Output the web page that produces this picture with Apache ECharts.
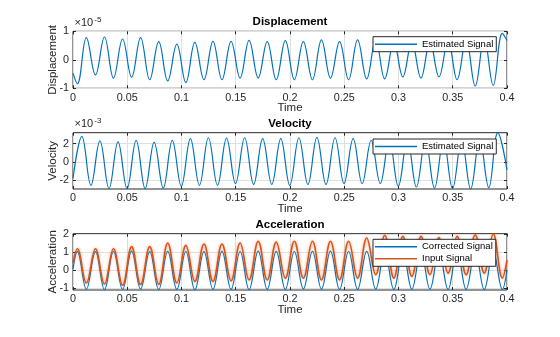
<!DOCTYPE html>
<html><head><meta charset="utf-8">
<script src="https://cdn.jsdelivr.net/npm/echarts@6/dist/echarts.min.js"></script>
<style>html,body{margin:0;padding:0;background:#fff}#c{width:560px;height:337px}</style>
</head><body><div id="c"></div>
<script>
// ---- data ----
const xTicks = [0, 0.05, 0.1, 0.15, 0.2, 0.25, 0.3, 0.35, 0.4];

// time stamps (s) of extrema for displacement and acceleration
const tAcc = [0, 0.0040, 0.0123, 0.0207, 0.0290, 0.0373, 0.0457, 0.0540, 0.0623, 0.0707, 0.0790,
  0.0873, 0.0957, 0.1040, 0.1123, 0.1207, 0.1290, 0.1373, 0.1457, 0.1540, 0.1623, 0.1707, 0.1790,
  0.1873, 0.1957, 0.2040, 0.2123, 0.2207, 0.2290, 0.2373, 0.2457, 0.2540, 0.2623, 0.2707, 0.2790,
  0.2873, 0.2957, 0.3040, 0.3123, 0.3207, 0.3290, 0.3373, 0.3457, 0.3540, 0.3623, 0.3707, 0.3790,
  0.3873, 0.3957, 0.4];

// displacement, in units of 1e-5
const dispExp = '-5';
const dispTicks = [-1, 0, 1];
const displacement = [-0.47, -0.84, 0.78, -0.53, 0.80, -0.64, 0.73, -0.61, 0.78, -0.70, 0.64,
  -0.74, 0.55, -0.80, 0.61, -0.70, 0.65, -0.70, 0.65, -0.64, 0.68, -0.64, 0.64,
  -0.70, 0.67, -0.70, 0.64, -0.70, 0.70, -0.64, 0.64, -0.70, 0.70, -0.67, 0.70,
  -0.67, 0.62, -0.60, 0.62, -0.64, 0.62, -0.60, 0.65, -0.70, 0.70, -0.92, 0.75,
  -0.90, 0.93, 0.68];

// velocity, in units of 1e-3
const velExp = '-3';
const velTicks = [-2, 0, 2];
const tVel = [0, 0.0082, 0.0165, 0.0248, 0.0332, 0.0415, 0.0498, 0.0582, 0.0665, 0.0748, 0.0832,
  0.0915, 0.0998, 0.1082, 0.1165, 0.1248, 0.1332, 0.1415, 0.1498, 0.1582, 0.1665, 0.1748, 0.1832,
  0.1915, 0.1998, 0.2082, 0.2165, 0.2248, 0.2332, 0.2415, 0.2498, 0.2582, 0.2665, 0.2748, 0.2832,
  0.2915, 0.2998, 0.3082, 0.3165, 0.3248, 0.3332, 0.3415, 0.3498, 0.3582, 0.3665, 0.3748, 0.3832,
  0.3915, 0.4];
const velocity = [-1.8, 2.8, -2.55, 2.3, -2.9, 2.2, -2.9, 2.36, -2.9, 2.15, -2.85,
  2.36, -2.65, 2.55, -2.55, 2.65, -2.55, 2.6, -2.35, 2.65, -2.45, 2.55, -2.45,
  2.55, -2.55, 2.65, -2.45, 2.7, -2.45, 2.65, -2.35, 2.55, -2.35, 2.35, -2.35,
  2.4, -2.65, 2.4, -2.73, 2.4, -2.85, 2.4, -2.9, 2.4, -2.95, 2.5, -2.8,
  3.2, -0.85];

// acceleration
const accTicks = [-1, 0, 1, 2];
const accCorrected = [0.05, 1.04, -1.07, 1.02, -1.09, 1.03, -1.08, 1.05, -1.06, 1.02, -1.09,
  1.04, -1.08, 1.03, -1.10, 1.02, -1.07, 1.04, -1.08, 1.03, -1.09, 1.05, -1.07,
  1.04, -1.08, 1.03, -1.05, 1.04, -1.06, 1.05, -1.08, 1.03, -1.07, 1.04, -1.06,
  1.03, -1.08, 1.02, -1.07, 1.04, -1.06, 1.03, -1.08, 1.05, -1.07, 1.04, -1.09,
  1.03, -1.08, 0.0];
const accInput = [0.4, 1.18, -0.72, 1.18, -0.78, 1.18, -0.85, 1.30, -0.80, 1.30, -0.80,
  1.50, -0.72, 1.37, -0.63, 1.45, -0.63, 1.45, -0.60, 1.50, -0.55, 1.60, -0.55,
  1.55, -0.45, 1.60, -0.45, 1.60, -0.55, 1.60, -0.55, 1.60, -0.45, 1.78, -0.26,
  1.93, -0.45, 1.87, -0.35, 1.87, -0.26, 1.80, -0.17, 1.87, -0.26, 1.96, -0.17,
  2.00, -0.45, 0.55];

// ---- chart ----
const FONT = '"Liberation Sans", Arial, Helvetica, sans-serif';
const AX = '#262626';
const GRIDC = '#dfdfdf';
const BLUE = '#0072BD', ORANGE = '#D95319';
const TICKFS = 10.8;
const G = [
  {top: 31.3, h: 57, ymin: -1, ymax: 1, ticks: dispTicks},
  {top: 132.7, h: 56.3, ymin: -2.95, ymax: 3.2, ticks: velTicks},
  {top: 233.7, h: 56.3, ymin: -1.11, ymax: 2.02, ticks: accTicks}
];
const pair = (t, v) => t.map((x, i) => [x, v[i]]);

const grid = G.map(g => ({left: 73, right: 53, top: g.top, height: g.h, show: true,
  borderColor: AX, borderWidth: 1, backgroundColor: '#fff'}));
const xAxis = [], yAxis = [];
G.forEach((g, i) => {
  xAxis.push({type: 'value', gridIndex: i, min: 0, max: 0.4, interval: 0.05, position: 'bottom',
    axisLine: {show: false, onZero: false},
    axisTick: {inside: true, length: 3, lineStyle: {color: AX}},
    axisLabel: {color: AX, fontSize: TICKFS, fontFamily: FONT, margin: 4,
      customValues: xTicks, formatter: v => String(+v.toFixed(2))},
    splitLine: {show: true, lineStyle: {color: GRIDC, width: 1}}});
  xAxis.push({type: 'value', gridIndex: i, min: 0, max: 0.4, interval: 0.05, position: 'top',
    axisLine: {show: false, onZero: false}, axisTick: {inside: true, length: 3, lineStyle: {color: AX}},
    axisLabel: {show: false}, splitLine: {show: false}});
  yAxis.push({type: 'value', gridIndex: i, min: g.ymin, max: g.ymax, position: 'left',
    axisLine: {show: false, onZero: false},
    axisTick: {inside: true, length: 3, lineStyle: {color: AX}, customValues: g.ticks},
    axisLabel: {color: AX, fontSize: TICKFS, fontFamily: FONT, margin: 4, customValues: g.ticks},
    splitLine: {show: true, lineStyle: {color: GRIDC, width: 1}}});
  yAxis.push({type: 'value', gridIndex: i, min: g.ymin, max: g.ymax, position: 'right',
    axisLine: {show: false, onZero: false},
    axisTick: {inside: true, length: 3, lineStyle: {color: AX}, customValues: g.ticks},
    axisLabel: {show: false}, splitLine: {show: false}});
});

const lineS = (name, data, gi, color, w, extra) => ({
  type: 'line', name, data, xAxisIndex: 2 * gi, yAxisIndex: 2 * gi,
  showSymbol: false, symbol: 'none', smooth: 0.4,
  lineStyle: Object.assign({color, width: w}, extra || {}), itemStyle: {color},
  animation: false, silent: true
});
const series = [
  lineS('Estimated Signal', pair(tAcc, displacement), 0, BLUE, 1.2),
  lineS('Estimated Signal', pair(tVel, velocity), 1, BLUE, 1.2),
  lineS('Corrected Signal', pair(tAcc, accCorrected), 2, BLUE, 1.2),
  lineS('Input Signal', pair(tAcc, accInput), 2, ORANGE, 1.6,
    {shadowBlur: 3, shadowColor: 'rgba(217,83,25,0.55)'})
];

const legendBase = {orient: 'vertical', left: 373, icon: 'rect', itemWidth: 42, itemHeight: 1.4,
  itemGap: 1, padding: [2, 3, 2, 2], borderColor: AX, borderWidth: 1, backgroundColor: '#fff',
  textStyle: {fontSize: 9.5, fontFamily: FONT, color: '#000', lineHeight: 11}, selectedMode: false};
const legend = [
  Object.assign({}, legendBase, {top: 36.7, data: ['Estimated Signal']}),
  Object.assign({}, legendBase, {top: 139, data: ['Estimated Signal']}),
  Object.assign({}, legendBase, {top: 239.3, data: ['Corrected Signal', 'Input Signal']})
];

const txt = (text, x, y, font, extra) => Object.assign({type: 'text', x, y, silent: true,
  style: {text, font, fill: AX, textAlign: 'center', textVerticalAlign: 'middle'}}, extra || {});
const titles = ['Displacement', 'Velocity', 'Acceleration'];
const graphic = [];
G.forEach((g, i) => {
  const t = txt(titles[i], 290, g.top - 9.3, 'bold 11.5px ' + FONT);
  t.style.fill = '#000';
  graphic.push(t);
  graphic.push(txt('Time', 290, g.top + g.h + 19.5, '11.5px ' + FONT));
  graphic.push(txt(titles[i], 52.5, g.top + g.h / 2, '11.5px ' + FONT, {rotation: Math.PI / 2}));
});
[[dispExp, G[0].top], [velExp, G[1].top]].forEach(([e, top]) => {
  const a = txt('\u00d710', 74.5, top - 8.5, '11px ' + FONT); a.style.textAlign = 'left';
  const b = txt(e, 94.3, top - 11.8, '8px ' + FONT); b.style.textAlign = 'left';
  graphic.push(a, b);
});

const chart = echarts.init(document.getElementById('c'), null, {renderer: 'canvas'});
chart.setOption({animation: false, backgroundColor: '#fff', grid, xAxis, yAxis, series, legend, graphic});
</script></body></html>
